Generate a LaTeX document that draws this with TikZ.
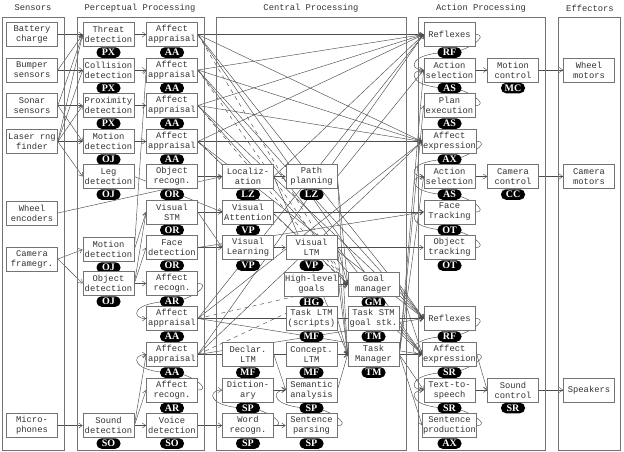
\documentclass[tikz,border=0pt]{standalone}
\usepackage{fontspec}
\setmonofont{Liberation Mono}
\newfontfamily\tagfont{Liberation Serif}
\usetikzlibrary{arrows.meta,backgrounds}
\tikzset{
 bx/.style={draw=black!55, fill=white, line width=0.7pt, minimum width=51pt, minimum height=24pt, inner sep=0.5pt, align=center, font=\ttfamily\fontsize{8.8}{10}\selectfont, text=black!80},
 tg/.style={fill=black, rounded corners=5pt, minimum width=24pt, minimum height=10.5pt, inner sep=0pt, text=white, font=\tagfont\bfseries\fontsize{10}{10}\selectfont},
 ttl/.style={font=\ttfamily\fontsize{8.8}{10}\selectfont, text=black!80},
 col/.style={draw=black!55, line width=0.6pt},
 arr/.style={draw=black!70, line width=0.45pt, -{Straight Barb[length=3.5pt,width=5pt]}},
 dsh/.style={arr, dash pattern=on 4pt off 4pt},
}
\newcommand\mb[5]{\node[bx] (#1) at (#2,#3) {#4}; \node[tg] (#1t) at (#2,#3+18) {#5};}
\newcommand\cv[3]{\draw[arr] (#1.east) .. controls +(16,0) and +(16,0) .. (#2.center) .. controls +(-40,0) and +(-16,0) .. (#3.west);}
\begin{document}
\begin{tikzpicture}[x=1pt,y=-1pt]
\useasboundingbox (0,0) rectangle (624,451);
% columns
\draw[col] (2,17) rectangle (64,450);
\draw[col] (77,17) rectangle (204,450);
\draw[col] (216,17) rectangle (406,450);
\draw[col] (418,17) rectangle (545,450);
\draw[col] (558,17) rectangle (620,450);
\node[ttl] (tSens) at (33,8) {Sensors};
\node[ttl] (tPerc) at (140,8) {Perceptual Processing};
\node[ttl] (tCent) at (311,8) {Central Processing};
\node[ttl] (tAct) at (481,8) {Action Processing};
\node[ttl] (tEff) at (590,8) {Effectors};
% sensors
\node[bx] (batt) at (32,34.5) {Battery\\charge};
\node[bx] (bump) at (32,70) {Bumper\\sensors};
\node[bx] (sonar) at (32,105.5) {Sonar\\sensors};
\node[bx] (laser) at (32,141.5) {Laser rng\\finder};
\node[bx] (wheel) at (32,213) {Wheel\\encoders};
\node[bx] (camfr) at (32,259) {Camera\\framegr.};
\node[bx] (micro) at (32,425.5) {Micro-\\phones};
% perceptual A
\mb{threat}{108.5}{34.5}{Threat\\detection}{PX}
\mb{coll}{108.5}{70}{Collision\\detection}{PX}
\mb{prox}{108.5}{105.5}{Proximity\\detection}{PX}
\mb{motA}{108.5}{141.5}{Motion\\detection}{OJ}
\mb{leg}{108.5}{176.5}{Leg\\detection}{OJ}
\mb{motB}{108.5}{249.5}{Motion\\detection}{OJ}
\mb{objdet}{108.5}{283.5}{Object\\detection}{OJ}
\mb{sound}{108.5}{425.5}{Sound\\detection}{SO}
% perceptual B
\mb{aa1}{172}{34.5}{Affect\\appraisal}{AA}
\mb{aa2}{172}{70}{Affect\\appraisal}{AA}
\mb{aa3}{172}{105.5}{Affect\\appraisal}{AA}
\mb{aa4}{172}{141.5}{Affect\\appraisal}{AA}
\mb{objrec}{172}{176.5}{Object\\recogn.}{OR}
\mb{vstm}{172}{212}{Visual\\STM}{OR}
\mb{face}{172}{247.5}{Face\\detection}{OR}
\mb{arecA}{172}{283.5}{Affect\\recogn.}{AR}
\mb{aa5}{172}{318.5}{Affect\\appraisal}{AA}
\mb{aa6}{172}{354.5}{Affect\\appraisal}{AA}
\mb{arecB}{172}{390}{Affect\\recogn.}{AR}
\mb{voice}{172}{425.5}{Voice\\detection}{SO}
% central
\mb{loc}{248}{176.5}{Localiz-\\ation}{LZ}
\mb{vatt}{248}{212}{Visual\\Attention}{VP}
\mb{vlearn}{248}{247.5}{Visual\\Learning}{VP}
\mb{declar}{248}{354.5}{Declar.\\LTM}{MF}
\mb{dict}{248}{390}{Diction-\\ary}{SP}
\mb{word}{248}{425.5}{Word\\recogn.}{SP}
\mb{path}{311.5}{176.5}{Path\\planning}{LZ}
\mb{vltm}{311.5}{247.5}{Visual\\LTM}{VP}
\mb{hlg}{311.5}{284.5}{High-level\\goals}{HG}
\mb{tltm}{311.5}{318.5}{Task LTM\\(scripts)}{MF}
\mb{concept}{311.5}{354.5}{Concept.\\LTM}{MF}
\mb{semantic}{311.5}{390}{Semantic\\analysis}{SP}
\mb{sentence}{311.5}{425.5}{Sentence\\parsing}{SP}
\mb{goal}{373.5}{284.5}{Goal\\manager}{GM}
\mb{tstm}{373.5}{318.5}{Task STM\\goal stk.}{TM}
\mb{tman}{373.5}{354.5}{Task\\Manager}{TM}
% action
\mb{reflA}{449.5}{34.5}{Reflexes}{RF}
\mb{asA}{449.5}{70}{Action\\selection}{AS}
\mb{plan}{449.5}{105.5}{Plan\\execution}{AS}
\mb{axA}{449.5}{141.5}{Affect\\expression}{AX}
\mb{asB}{449.5}{176.5}{Action\\selection}{AS}
\mb{facetr}{449.5}{212}{Face\\Tracking}{OT}
\mb{objtr}{449.5}{247.5}{Object\\tracking}{OT}
\mb{reflB}{449.5}{318.5}{Reflexes}{RF}
\mb{axB}{449.5}{354.5}{Affect\\expression}{SR}
\mb{tts}{449.5}{390}{Text-to-\\speech}{SR}
\mb{sprod}{449.5}{425.5}{Sentence\\production}{AX}
\mb{motion}{513}{70}{Motion\\control}{MC}
\mb{camctl}{513}{176.5}{Camera\\control}{CC}
\mb{soundctl}{513}{390}{Sound\\control}{SR}
% effectors
\node[bx] (wheelm) at (589,70) {Wheel\\motors};
\node[bx] (cammot) at (589,176.5) {Camera\\motors};
\node[bx] (speakers) at (589,390) {Speakers};
% connectors
\begin{scope}[on background layer]
\foreach \a/\b in {batt/threat, bump/threat, bump/coll, sonar/threat, sonar/prox, sonar/motA, laser/threat, laser/coll, laser/prox, laser/motA, laser/leg, wheel/loc, camfr/motB, camfr/objdet, micro/sound,
 threat/aa1, coll/aa2, prox/aa3, motA/aa4, motB/aa2, motB/vstm, objdet/vstm, objdet/face, objdet/arecA, leg/vatt, objrec/loc, vstm/vatt, vstm/vlearn, face/vlearn, face/facetr, sound/voice, sound/aa6, sound/arecB, voice/word,
 loc/path, vlearn/vltm, vatt/facetr, vltm/objtr, word/sentence, dict/semantic, declar/semantic, semantic/tman, concept/tman, tltm/tman, hlg/goal, path/goal, vltm/goal, loc/tman, path/tman, vltm/tman, hlg/tman,
 path/asA, loc/reflA, tman/plan, tman/asA, tman/asB, tman/tts, tman/sprod, tstm/reflB, goal/axB, goal/reflB, tltm/reflB,
 asA/motion, motion/wheelm, asB/camctl, camctl/cammot, tts/soundctl, axB/soundctl, soundctl/speakers}
 \draw[arr] (\a.east) -- (\b.west);
\foreach \a in {aa1,aa2,aa3,aa4,aa5,aa6}{
 \foreach \b in {reflA,axA,reflB,axB} \draw[arr] (\a.east) -- (\b.west);
 \draw[dsh] (\a.east) -- (goal.west);
}
\cv{reflA}{reflAt}{asA}
\cv{plan}{asAt}{asA}
\cv{axA}{axAt}{asB}
\cv{facetr}{asBt}{asB}
\cv{objtr}{facetrt}{facetr}
\cv{reflB}{reflBt}{axB}
\cv{axB}{axBt}{tts}
\cv{sprod}{ttst}{tts}
\cv{arecA}{arecAt}{aa5}
\cv{arecB}{aa6t}{aa6}
\cv{sentence}{semantict}{semantic}
\cv{word}{dictt}{dict}
\end{scope}
\end{tikzpicture}
\end{document}
